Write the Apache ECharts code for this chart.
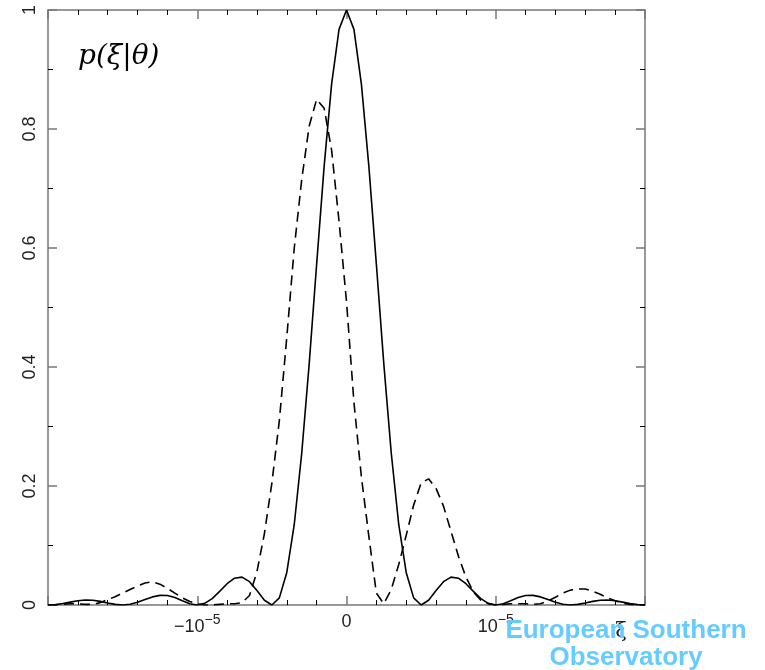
<!DOCTYPE html>
<html>
<head>
<meta charset="utf-8">
<script src="https://cdn.jsdelivr.net/npm/echarts@6/dist/echarts.min.js"></script>
<style>
html,body{margin:0;padding:0;background:#fff;}
#c{width:765px;height:670px;}
</style>
</head>
<body>
<div id="c"></div>
<script>
// xi in units of 1e-5
var xi = [-2.00,-1.95,-1.90,-1.85,-1.80,-1.75,-1.70,-1.65,-1.60,-1.55,-1.50,-1.45,-1.40,-1.35,-1.30,-1.25,-1.20,-1.15,-1.10,-1.05,
          -1.00,-0.95,-0.90,-0.85,-0.80,-0.75,-0.70,-0.65,-0.60,-0.55,-0.50,-0.45,-0.40,-0.35,-0.30,-0.25,-0.20,-0.15,-0.10,-0.05,
          0.00,0.05,0.10,0.15,0.20,0.25,0.30,0.35,0.40,0.45,0.50,0.55,0.60,0.65,0.70,0.75,0.80,0.85,0.90,0.95,
          1.00,1.05,1.10,1.15,1.20,1.25,1.30,1.35,1.40,1.45,1.50,1.55,1.60,1.65,1.70,1.75,1.80,1.85,1.90,1.95,2.00];
var pSolid = [0,0.0006,0.0024,0.0048,0.0071,0.0083,0.0079,0.0061,0.0034,0.0010,
              0,0.0012,0.0045,0.0091,0.0136,0.0162,0.0159,0.0125,0.0072,0.0022,
              0,0.0027,0.0108,0.0229,0.0358,0.0450,0.0468,0.0392,0.0243,0.0080,
              0,0.0120,0.0547,0.1353,0.2550,0.4053,0.5730,0.7368,0.8750,0.9675,
              1,
              0.9675,0.8750,0.7368,0.5730,0.4053,0.2550,0.1353,0.0547,0.0120,0,
              0.0080,0.0243,0.0392,0.0468,0.0450,0.0358,0.0229,0.0108,0.0027,0,
              0.0022,0.0072,0.0125,0.0159,0.0162,0.0136,0.0091,0.0045,0.0012,0,
              0.0010,0.0034,0.0061,0.0079,0.0083,0.0071,0.0048,0.0024,0.0006,0];
var pDashed = [0.000,0.000,0.001,0.002,0.002,0.001,0.001,0.004,0.009,0.014,
               0.020,0.026,0.032,0.037,0.039,0.035,0.028,0.020,0.012,0.006,
               0.002,0.000,0.000,0.001,0.002,0.002,0.004,0.016,0.056,0.120,
               0.205,0.310,0.450,0.600,0.715,0.805,0.850,0.835,0.765,0.645,
               0.510,
               0.340,0.215,0.115,0.020,0.002,0.026,0.068,0.117,0.168,0.205,
               0.212,0.196,0.166,0.124,0.082,0.047,0.022,0.008,0.002,0.000,
               0.001,0.002,0.002,0.002,0.001,0.002,0.007,0.013,0.020,0.025,
               0.027,0.027,0.023,0.018,0.012,0.007,0.003,0.001,0.000,0.000];
var xTickLabels = {'-1':'−10{s|−5}','0':'0','1':'10{s|−5}'};
var yTickLabels = ['0','0.2','0.4','0.6','0.8','1'];

var chart = echarts.init(document.getElementById('c'), null, {renderer:'canvas'});
var axisLineStyle = {color:'#777', width:1.5};
function xAxisDef(pos, showLabel){
  return {
    type:'value', position:pos, min:-2, max:2, interval:1,
    axisLine:{show:true, onZero:false, lineStyle:axisLineStyle},
    axisTick:{show:true, inside:true, length:9, lineStyle:{color:'#777', width:1.5}},
    minorTick:{show:true, splitNumber:5, length:5, lineStyle:{color:'#000', width:1}},
    splitLine:{show:false},
    axisLabel:{show:showLabel, margin:8, color:'#222', fontSize:18, fontFamily:'Liberation Sans',
      formatter:function(v){ var k = String(Math.round(v)); return (Math.abs(v-Math.round(v))<1e-9 && xTickLabels[k]!==undefined) ? xTickLabels[k] : ''; },
      rich:{s:{fontSize:14, fontFamily:'Liberation Sans', color:'#222', padding:[0,0,14,0]}}
    }
  };
}
function yAxisDef(pos, showLabel){
  return {
    type:'value', position:pos, min:0, max:1, interval:0.2,
    axisLine:{show:true, onZero:false, lineStyle:axisLineStyle},
    axisTick:{show:true, inside:true, length:9, lineStyle:{color:'#777', width:1.5}},
    minorTick:{show:true, splitNumber:2, length:5, lineStyle:{color:'#000', width:1}},
    splitLine:{show:false},
    axisLabel:{show:showLabel, rotate:90, margin:9, color:'#222', fontSize:18, fontFamily:'Liberation Sans',
      formatter:function(v){ return yTickLabels[Math.round(v*5)]; }}
  };
}

chart.setOption({
  animation:false,
  backgroundColor:'#fff',
  grid:{left:48, right:120, top:10, bottom:65, containLabel:false},
  xAxis:[xAxisDef('bottom', true), xAxisDef('top', false)],
  yAxis:[yAxisDef('left', true), yAxisDef('right', false)],
  series:[
    {type:'line', xAxisIndex:0, yAxisIndex:0, showSymbol:false, symbol:'none',
     data: xi.map(function(x,i){return [x,pSolid[i]];}),
     lineStyle:{color:'#000', width:1.6}, z:3},
    {type:'line', xAxisIndex:0, yAxisIndex:0, showSymbol:false, symbol:'none',
     data: xi.map(function(x,i){return [x,pDashed[i]];}),
     lineStyle:{color:'#000', width:1.6, type:[10,6]}, z:3}
  ],
  graphic:[
    {type:'text', left:78, top:43, style:{text:'p(ξ|θ)', font:'italic 28px "DejaVu Serif"', fill:'#000'}},
    {type:'text', x:621, y:621, style:{text:'ξ', font:'21px "DejaVu Serif"', fill:'#222', align:'center'}, z:50},
    {type:'text', x:626, y:617, style:{text:'European Southern\nObservatory', font:'bold 26px "Liberation Sans"', fill:'#66ccff', align:'center', lineHeight:27}, z:100}
  ]
});
</script>
</body>
</html>
